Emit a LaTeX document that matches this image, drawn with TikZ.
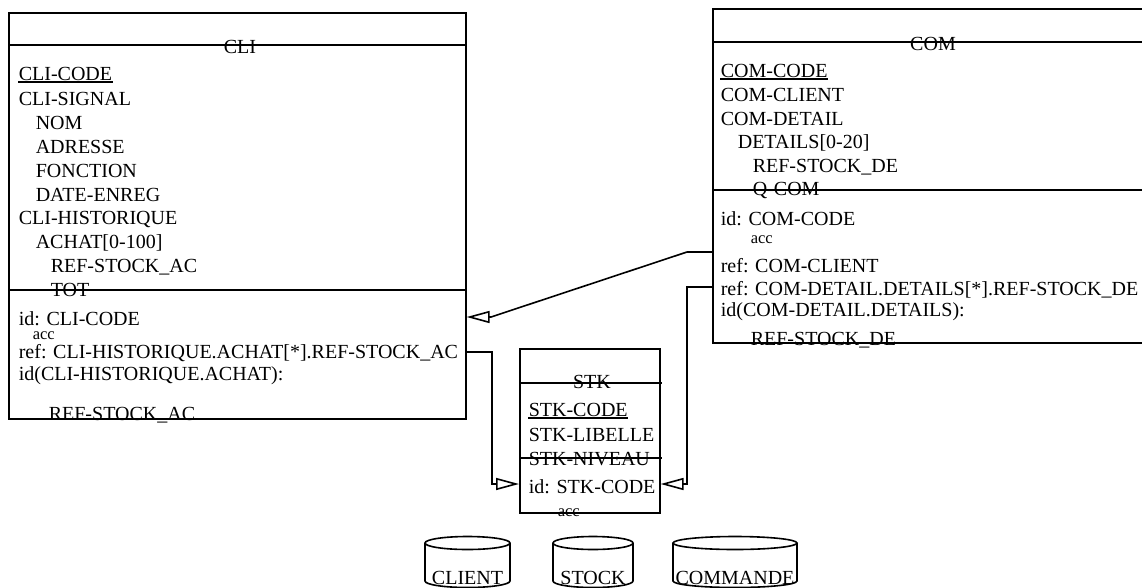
\documentclass[tikz,border=0pt]{standalone}
\usepackage{fontspec}
\setmainfont{Liberation Serif}
\usepackage{tikz}
\usetikzlibrary{arrows.meta, calc}

\begin{document}
\begin{tikzpicture}[x=1pt, y=-1pt, line width=1.6pt,
    box/.style={draw, anchor=north west, inner sep=0pt},
    txt/.style={anchor=base west, inner sep=0pt, font=\fontsize{20}{23}\selectfont},
    small/.style={anchor=base west, inner sep=0pt, font=\fontsize{16.5}{18}\selectfont},
    link/.style={-{Triangle[open, length=23pt, width=12pt]}, line join=miter}]
    \useasboundingbox (0,0) rectangle (1142,587);
    \clip (0,0) rectangle (1142,587);

    % CLI
    \node[box, minimum width=457pt, minimum height=406pt] (cli) at (8,12) {};
    \draw (cli.west |- 0,45) -- ++(459,0);
    \draw (cli.west |- 0,290) -- ++(459,0);
    \node[txt, anchor=base] (cli-title) at (240,53) {CLI};
    \node[txt] (cli-code) at (18,80) {CLI-CODE};
    \draw[line width=2pt] ([yshift=-2pt]cli-code.base west) -- ([yshift=-2pt]cli-code.base east);
    \foreach \x/\y/\t [count=\i] in {18/105.8/{CLI-SIGNAL}, 35/129.6/{NOM}, 35/153.4/{ADRESSE},
        35/177.2/{FONCTION}, 35/201/{DATE-ENREG}, 18/224.8/{CLI-HISTORIQUE},
        35/248.6/{ACHAT[0-100]}, 50/272.4/{REF-STOCK\_AC}, 50/296.2/{TOT},
        18/325/{id: CLI-CODE}, 18/358/{ref: CLI-HISTORIQUE.ACHAT[*].REF-STOCK\_AC},
        18/380/{id(CLI-HISTORIQUE.ACHAT):}, 48/420/{REF-STOCK\_AC}}
        \node[txt] (cli-\i) at (\x,\y) {\t};
    \node[small] (cli-acc) at (32,339) {acc};

    % COM
    \node[box, minimum width=442pt, minimum height=334pt] (com) at (712,8) {};
    \draw (com.west |- 0,42) -- ++(444,0);
    \draw (com.west |- 0,190) -- ++(444,0);
    \node[txt, anchor=base] (com-title) at (933,50) {COM};
    \node[txt] (com-code) at (720,77) {COM-CODE};
    \draw[line width=2pt] ([yshift=-2pt]com-code.base west) -- ([yshift=-2pt]com-code.base east);
    \foreach \x/\y/\t [count=\i] in {720/101.5/{COM-CLIENT}, 720/125/{COM-DETAIL},
        737/148.5/{DETAILS[0-20]}, 752/172/{REF-STOCK\_DE}, 752/195/{Q-COM},
        720/225/{id: COM-CODE}, 720/272/{ref: COM-CLIENT},
        720/295/{ref: COM-DETAIL.DETAILS[*].REF-STOCK\_DE},
        720/316/{id(COM-DETAIL.DETAILS):}, 750/345/{REF-STOCK\_DE}}
        \node[txt] (com-\i) at (\x,\y) {\t};
    \node[small] (com-acc) at (750,243) {acc};

    % STK
    \node[box, minimum width=140pt, minimum height=164pt] (stk) at (519,348) {};
    \draw (stk.west |- 0,383) -- ++(143,0);
    \draw (stk.west |- 0,458) -- ++(143,0);
    \node[txt, anchor=base] (stk-title) at (592,388) {STK};
    \node[txt] (stk-code) at (528,416) {STK-CODE};
    \draw[line width=2pt] ([yshift=-2pt]stk-code.base west) -- ([yshift=-2pt]stk-code.base east);
    \node[txt] (stk-lib) at (528,441) {STK-LIBELLE};
    \node[txt] (stk-niv) at (528,465) {STK-NIVEAU};
    \node[txt] (stk-id) at (528,493) {id: STK-CODE};
    \node[small] (stk-acc) at (557,516) {acc};

    % references
    \draw[link] (com.west |- 0,252) -- (687,252) -- (491,317) -- (cli.east |- 0,317);
    \draw[link] (cli.east |- 0,352) -- (492,352) -- (492,484) -- (stk.west |- 0,484);
    \draw[link] (com.west |- 0,287) -- (687,287) -- (687,484) -- (stk.east |- 0,484);

    % files
    \foreach \t/\xl/\xr in {CLIENT/425/510, STOCK/553/633, COMMANDE/673/797} {
        \pgfmathsetmacro{\xc}{(\xl+\xr)/2}
        \pgfmathsetmacro{\rx}{(\xr-\xl)/2}
        \draw (\xc,543) ellipse [x radius=\rx pt, y radius=6.5pt];
        \draw (\xl,543) -- (\xl,581) arc [start angle=180, end angle=360, x radius=\rx pt, y radius=6.5pt] -- (\xr,543);
        \node[txt, anchor=base] (db-\t) at (\xc,584) {\t};
    }
\end{tikzpicture}
\end{document}
